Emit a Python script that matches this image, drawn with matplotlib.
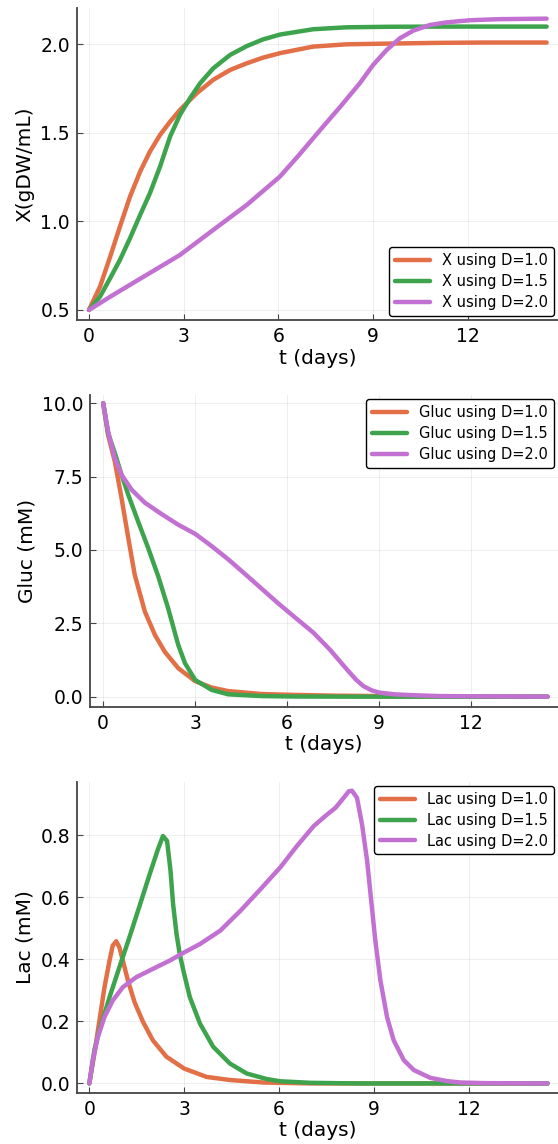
import matplotlib
matplotlib.use("Agg")
import matplotlib.pyplot as plt
from matplotlib.ticker import FormatStrFormatter

# colours of the three dilution rates
colors = ["#E26F46", "#3DA44D", "#C271D2"]
d_labels = ["D=1.0", "D=1.5", "D=2.0"]

# --- biomass X (gDW/mL) ---
x_t1 = [0, 0.35, 0.67, 0.98, 1.30, 1.62, 1.93, 2.25, 2.57, 2.88, 3.41, 3.94, 4.47, 5.0, 5.52,
        6.05, 7.1, 8.16, 9.5, 11.0, 12.5, 14.5]
x_y1 = [0.5, 0.632, 0.80, 0.97, 1.14, 1.281, 1.394, 1.488, 1.563, 1.629, 1.723, 1.80, 1.855, 1.893,
        1.925, 1.95, 1.987, 2.0, 2.004, 2.008, 2.01, 2.01]
x_t2 = [0, 0.35, 0.67, 0.98, 1.30, 1.62, 1.93, 2.25, 2.57, 2.88, 3.2, 3.52, 3.94, 4.47, 5.0, 5.52,
        6.05, 7.1, 8.16, 9.5, 11.0, 12.5, 14.5]
x_y2 = [0.5, 0.575, 0.679, 0.782, 0.905, 1.036, 1.159, 1.309, 1.479, 1.601, 1.695, 1.78, 1.865,
        1.94, 1.99, 2.028, 2.055, 2.085, 2.096, 2.099, 2.10, 2.10, 2.10]
x_t3 = [0, 0.77, 1.83, 2.88, 3.94, 5.0, 6.05, 6.68, 7.32, 7.95, 8.58, 9.0, 9.43, 9.85, 10.27,
        10.8, 11.33, 12.07, 13.0, 14.5]
x_y3 = [0.5, 0.585, 0.698, 0.81, 0.952, 1.093, 1.253, 1.38, 1.515, 1.645, 1.78, 1.883, 1.968,
        2.034, 2.077, 2.109, 2.124, 2.136, 2.142, 2.145]

# --- glucose (mM) ---
g_t1 = [0, 0.16, 0.38, 0.60, 0.82, 1.03, 1.36, 1.69, 2.01, 2.45, 3.0, 3.54, 4.08, 5.17, 6.26,
        7.5, 9.0, 10.5, 12.0, 14.5]
g_y1 = [10.0, 8.92, 8.01, 6.76, 5.40, 4.15, 2.90, 2.10, 1.53, 0.97, 0.53, 0.31, 0.19, 0.09, 0.06,
        0.035, 0.02, 0.01, 0.005, 0.0]
g_t2 = [0, 0.16, 0.38, 0.60, 0.82, 1.14, 1.47, 1.80, 2.12, 2.45, 2.67, 3.0, 3.54, 4.08, 5.17,
        6.26, 8.0, 14.5]
g_y2 = [10.0, 8.98, 8.30, 7.56, 6.875, 5.97, 5.06, 4.09, 3.01, 1.76, 1.14, 0.57, 0.23, 0.08, 0.02,
        0.005, 0.0, 0.0]
g_t3 = [0, 0.16, 0.38, 0.60, 0.93, 1.36, 1.91, 2.45, 3.0, 3.54, 4.08, 4.63, 5.17, 5.71, 6.26,
        6.86, 7.4, 7.95, 8.25, 8.49, 8.75, 9.0, 9.5, 10.1, 11.0, 14.5]
g_y3 = [10.0, 9.04, 8.13, 7.56, 7.05, 6.61, 6.22, 5.86, 5.55, 5.13, 4.68, 4.18, 3.68, 3.18, 2.70,
        2.18, 1.60, 0.93, 0.58, 0.36, 0.22, 0.14, 0.08, 0.05, 0.02, 0.0]

# --- lactate (mM) ---
l_t1 = [0, 0.16, 0.32, 0.48, 0.64, 0.74, 0.85, 0.95, 1.06, 1.22, 1.43, 1.70, 2.01, 2.44, 3.0,
        3.71, 4.45, 5.51, 7.0, 14.5]
l_y1 = [0.0, 0.096, 0.203, 0.31, 0.396, 0.444, 0.458, 0.439, 0.396, 0.332, 0.262, 0.198, 0.139,
        0.086, 0.048, 0.021, 0.011, 0.003, 0.0, 0.0]
l_t2 = [0, 0.16, 0.32, 0.64, 0.95, 1.27, 1.59, 1.91, 2.17, 2.33, 2.46, 2.57, 2.65, 2.76, 2.86,
        3.0, 3.18, 3.5, 3.92, 4.45, 4.98, 5.62, 6.04, 7.0, 8.5, 14.5]
l_y2 = [0.0, 0.107, 0.171, 0.278, 0.374, 0.471, 0.572, 0.674, 0.754, 0.797, 0.781, 0.684, 0.578,
        0.481, 0.417, 0.353, 0.278, 0.193, 0.118, 0.064, 0.032, 0.014, 0.007, 0.002, 0.0, 0.0]
l_t3 = [0, 0.11, 0.27, 0.48, 0.74, 1.06, 1.48, 2.01, 2.55, 3.0, 3.5, 4.14, 4.77, 5.41, 6.05,
        6.57, 7.10, 7.52, 7.79, 8.0, 8.21, 8.31, 8.47, 8.63, 8.79, 8.92, 9.05, 9.21, 9.42, 9.63,
        9.95, 10.27, 10.79, 11.32, 11.74, 12.5, 14.5]
l_y3 = [0.0, 0.075, 0.15, 0.214, 0.267, 0.31, 0.342, 0.369, 0.396, 0.422, 0.449, 0.492, 0.555,
        0.625, 0.697, 0.765, 0.829, 0.866, 0.888, 0.914, 0.941, 0.943, 0.92, 0.834, 0.717, 0.588,
        0.46, 0.332, 0.214, 0.139, 0.075, 0.043, 0.018, 0.0075, 0.003, 0.001, 0.0]

x_ticks = [0, 3, 6, 9, 12]

panels = [
    dict(series=[(x_t1, x_y1), (x_t2, x_y2), (x_t3, x_y3)], prefix="X", ylabel="X(gDW/mL)",
         rect=[0.138, 0.7203, 0.862, 0.2727], ylim=(0.443, 2.205), yticks=[0.5, 1.0, 1.5, 2.0],
         xlim=(-0.38, 14.86), loc="lower right"),
    dict(series=[(g_t1, g_y1), (g_t2, g_y2), (g_t3, g_y3)], prefix="Gluc", ylabel="Gluc (mM)",
         rect=[0.1613, 0.3823, 0.8387, 0.2724], ylim=(-0.34, 10.28), yticks=[0.0, 2.5, 5.0, 7.5, 10.0],
         xlim=(-0.43, 14.84), loc="upper right"),
    dict(series=[(l_t1, l_y1), (l_t2, l_y2), (l_t3, l_y3)], prefix="Lac", ylabel="Lac (mM)",
         rect=[0.138, 0.0448, 0.862, 0.2719], ylim=(-0.03, 0.972), yticks=[0.0, 0.2, 0.4, 0.6, 0.8],
         xlim=(-0.39, 14.83), loc="upper right"),
]

fig = plt.figure(figsize=(5.58, 11.44), dpi=100)

for p in panels:
    ax = fig.add_axes(p["rect"])
    for (t, y), c, d in zip(p["series"], colors, d_labels):
        ax.plot(t, y, color=c, lw=3.2, label=f"{p['prefix']} using {d}",
                solid_capstyle="round", solid_joinstyle="round")
    ax.set_xlim(*p["xlim"])
    ax.set_ylim(*p["ylim"])
    ax.set_xticks(x_ticks)
    ax.set_yticks(p["yticks"])
    ax.yaxis.set_major_formatter(FormatStrFormatter("%.1f"))
    ax.grid(True, color="black", alpha=0.08, lw=0.6)
    for s in ["top", "right"]:
        ax.spines[s].set_visible(False)
    for s in ["left", "bottom"]:
        ax.spines[s].set_color("#444444")
        ax.spines[s].set_linewidth(1.3)
    ax.tick_params(direction="in", length=4, width=0.8, labelsize=13.5, color="#444444", pad=5)
    ax.set_xlabel("t (days)", fontsize=14.5, labelpad=2)
    ax.set_ylabel(p["ylabel"], fontsize=14.5)
    leg = ax.legend(loc=p["loc"], fontsize=10.5, handlelength=2.4, framealpha=1,
                    borderaxespad=0.3, labelspacing=0.4, borderpad=0.4)
    leg.get_frame().set_edgecolor("black")
    leg.get_frame().set_linewidth(1.0)
    leg.get_frame().set_boxstyle("round", pad=0, rounding_size=0.2)

fig.savefig("out.png", dpi=100)
